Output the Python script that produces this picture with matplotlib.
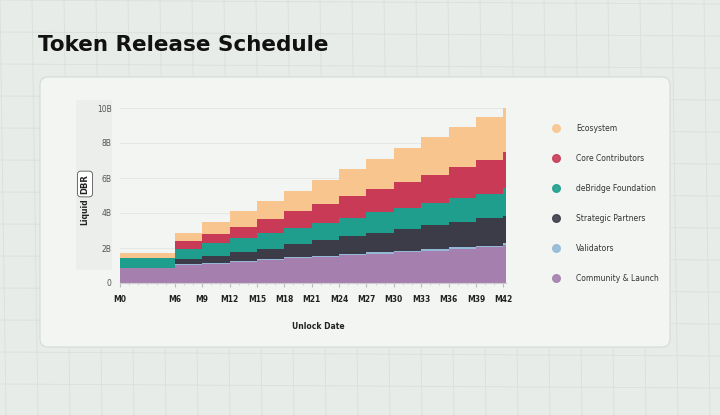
import matplotlib.pyplot as plt
from matplotlib.patches import FancyBboxPatch
import numpy as np

months = [0, 6, 9, 12, 15, 18, 21, 24, 27, 30, 33, 36, 39, 42]
tick_labels = ["M0", "M6", "M9", "M12", "M15", "M18", "M21", "M24", "M27", "M30", "M33", "M36", "M39", "M42"]
series = ["Community & Launch", "Validators", "Strategic Partners", "deBridge Foundation", "Core Contributors", "Ecosystem"]
colors = ["#A57FAE", "#93B9D6", "#3B3C48", "#1F9E8D", "#C83A55", "#F9C58E"]
# cumulative tops (B DBR) per series at each unlock month
community = [0.88, 1.01, 1.11, 1.20, 1.30, 1.40, 1.49, 1.59, 1.68, 1.76, 1.85, 1.95, 2.05, 2.16]
validators = [0.88, 1.07, 1.17, 1.26, 1.38, 1.47, 1.57, 1.66, 1.76, 1.85, 1.95, 2.05, 2.14, 2.29]
strategic = [0.88, 1.36, 1.55, 1.76, 1.97, 2.22, 2.45, 2.66, 2.87, 3.10, 3.31, 3.50, 3.69, 3.82]
foundation = [1.40, 1.97, 2.31, 2.58, 2.87, 3.15, 3.44, 3.73, 4.03, 4.30, 4.59, 4.84, 5.09, 5.41]
core = [1.40, 2.39, 2.81, 3.21, 3.65, 4.09, 4.51, 4.95, 5.35, 5.79, 6.18, 6.60, 7.02, 7.46]
ecosystem = [1.74, 2.87, 3.46, 4.09, 4.68, 5.28, 5.89, 6.52, 7.09, 7.71, 8.32, 8.91, 9.46, 10.04]
y_ticks = [0, 2, 4, 6, 8, 10]
y_tick_labels = ["0", "2B", "4B", "6B", "8B", "10B"]

fig = plt.figure(figsize=(7.2, 4.15), dpi=100)
fig.patch.set_facecolor("#E8ECE8")
bg = fig.add_axes([0, 0, 1, 1], zorder=-10)
bg.set_xlim(0, 720); bg.set_ylim(415, 0); bg.axis("off")
for gx in range(0, 720, 32):
    bg.plot([gx, gx + 6], [0, 415], color="#DADFDA", lw=0.6, zorder=0)
for gy in range(0, 415, 32):
    bg.plot([0, 720], [gy, gy + 4], color="#DADFDA", lw=0.6, zorder=0)
bg.add_patch(FancyBboxPatch((40, 77), 630, 270, boxstyle="round,pad=0,rounding_size=8",
                            fc="#F3F5F2", ec="#D5DAD5", lw=0.8, zorder=1))
bg.add_patch(FancyBboxPatch((76, 100), 36, 170, boxstyle="round,pad=0,rounding_size=3",
                            fc="#EBEEEA", ec="none", zorder=2))
bg.text(38, 45, "Token Release Schedule", fontsize=15.5, fontweight="bold", color="#111111", va="center", zorder=3)
bg.text(85, 212, "Liquid", rotation=90, fontsize=5.5, fontweight="bold", va="center", ha="center", color="#222", zorder=3)
bg.text(85, 184, "DBR", rotation=90, fontsize=6, fontweight="bold", va="center", ha="center", color="#222", zorder=3,
        bbox=dict(boxstyle="round,pad=0.35", fc="white", ec="#555", lw=0.6))
bg.text(318, 326, "Unlock Date", fontsize=5.5, fontweight="bold", ha="center", va="center", color="#222", zorder=3)

ax = fig.add_axes([120 / 720, 1 - 283 / 415, 386 / 720, 175 / 415])
ax.set_facecolor("none")
x = months + [42.3]
tops = [community, validators, strategic, foundation, core, ecosystem]
prev = [0] * len(months)
for top, c in zip(tops, colors):
    ax.fill_between(x, prev + [prev[-1]], top + [top[-1]], step="post", color=c, lw=0)
    prev = top
ax.set_xlim(0, 42.3)
ax.set_ylim(0, 10)
ax.set_yticks(y_ticks)
ax.set_yticklabels(y_tick_labels, fontsize=5.5, color="#555")
ax.set_xticks(months)
ax.set_xticklabels(tick_labels, fontsize=5.5, fontweight="bold", color="#222")
ax.set_xticks(np.arange(0, 43, 1), minor=True)
ax.tick_params(axis="y", length=0, pad=6)
ax.tick_params(axis="x", which="major", length=3, color="#bbb", pad=6)
ax.tick_params(axis="x", which="minor", length=1.5, color="#ccc")
ax.grid(axis="y", color="#E2E5E2", lw=0.6)
ax.set_axisbelow(True)
for s in ax.spines.values():
    s.set_visible(False)
ax.spines["bottom"].set_visible(True)
ax.spines["bottom"].set_color("#ccc")

leg_y = [128, 158, 188, 218, 248, 278]
for name, c, yy in zip(series[::-1], colors[::-1], leg_y):
    bg.scatter([556], [yy], s=30, color=c, alpha=0.9, zorder=3)
    bg.text(576, yy, name, fontsize=5.5, va="center", color="#333", zorder=3)

fig.savefig("out.png", dpi=100, facecolor=fig.get_facecolor())
